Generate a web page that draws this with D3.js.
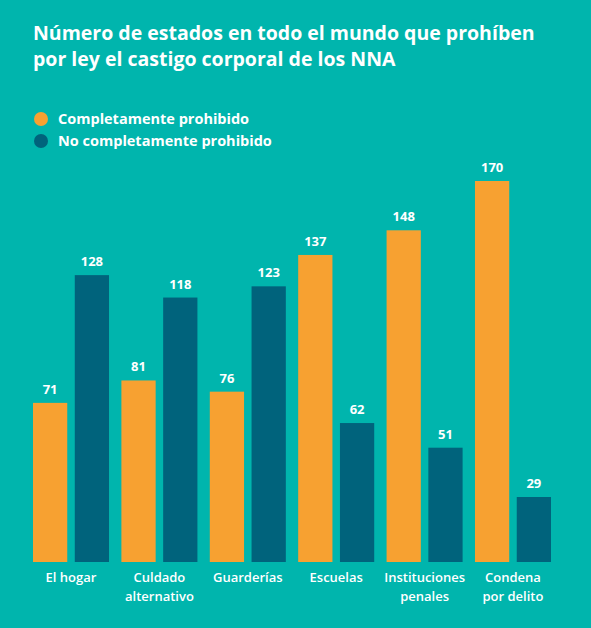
<!DOCTYPE html>
<html><head><meta charset="utf-8">
<script src="https://cdn.jsdelivr.net/npm/d3@7"></script>
<style>body{margin:0;background:#00b5ad}svg{display:block;font-family:"Open Sans",Lato,sans-serif}</style>
</head><body><div id="chart"></div>
<script>
var categories = [["El hogar"], ["Culdado", "alternativo"], ["Guarderías"], ["Escuelas"], ["Instituciones", "penales"], ["Condena", "por delito"]];
var series = ["Completamente prohibido", "No completamente prohibido"];
var completo = [71, 81, 76, 137, 148, 170];
var noCompleto = [128, 118, 123, 62, 51, 29];
var colors = ["#f7a131", "#00637c"];

var width = 591, height = 628, baseline = 562;
var svg = d3.select("#chart").append("svg").attr("width", width).attr("height", height);
svg.append("rect").attr("width", width).attr("height", height).attr("fill", "#00b5ad");

svg.append("text").attr("x", 33).attr("y", 40).attr("fill", "#fff")
    .style("font-size", "19.5px").style("font-weight", 700)
    .text("Número de estados en todo el mundo que prohíben");
svg.append("text").attr("x", 33).attr("y", 66).attr("fill", "#fff")
    .style("font-size", "19.5px").style("font-weight", 700)
    .text("por ley el castigo corporal de los NNA");

series.forEach(function (s, i) {
    svg.append("circle").attr("cx", 41).attr("cy", 119 + i * 22).attr("r", 7).attr("fill", colors[i]);
    svg.append("text").attr("x", 58).attr("y", 124 + i * 22).attr("fill", "#fff")
        .style("font-size", "14.5px").style("font-weight", 700).text(s);
});

var idx = d3.range(categories.length);
var x0 = d3.scaleBand().domain(idx).range([33, 551]).paddingInner(0.14);
var x1 = d3.scaleBand().domain([0, 1]).range([0, x0.bandwidth()]).paddingInner(0.18);
var y = d3.scaleLinear().domain([0, 170]).range([baseline, 181]);

var g = svg.selectAll(".grp").data(idx).enter().append("g")
    .attr("transform", function (d) { return "translate(" + x0(d) + ",0)"; });

g.each(function (d) {
    var vals = [completo[d], noCompleto[d]];
    var sel = d3.select(this);
    vals.forEach(function (v, j) {
        sel.append("rect").attr("x", x1(j)).attr("y", y(v))
            .attr("width", x1.bandwidth()).attr("height", baseline - y(v)).attr("fill", colors[j]);
        sel.append("text").attr("x", x1(j) + x1.bandwidth() / 2).attr("y", y(v) - 9)
            .attr("text-anchor", "middle").attr("fill", "#fff")
            .style("font-size", "13px").style("font-weight", 700).text(v);
    });
    var t = sel.append("text").attr("text-anchor", "middle").attr("fill", "#fff")
        .style("font-size", "13px").style("font-weight", 600);
    categories[d].forEach(function (line, k) {
        t.append("tspan").attr("x", x0.bandwidth() / 2).attr("y", 582 + k * 19).text(line);
    });
});
</script></body></html>
